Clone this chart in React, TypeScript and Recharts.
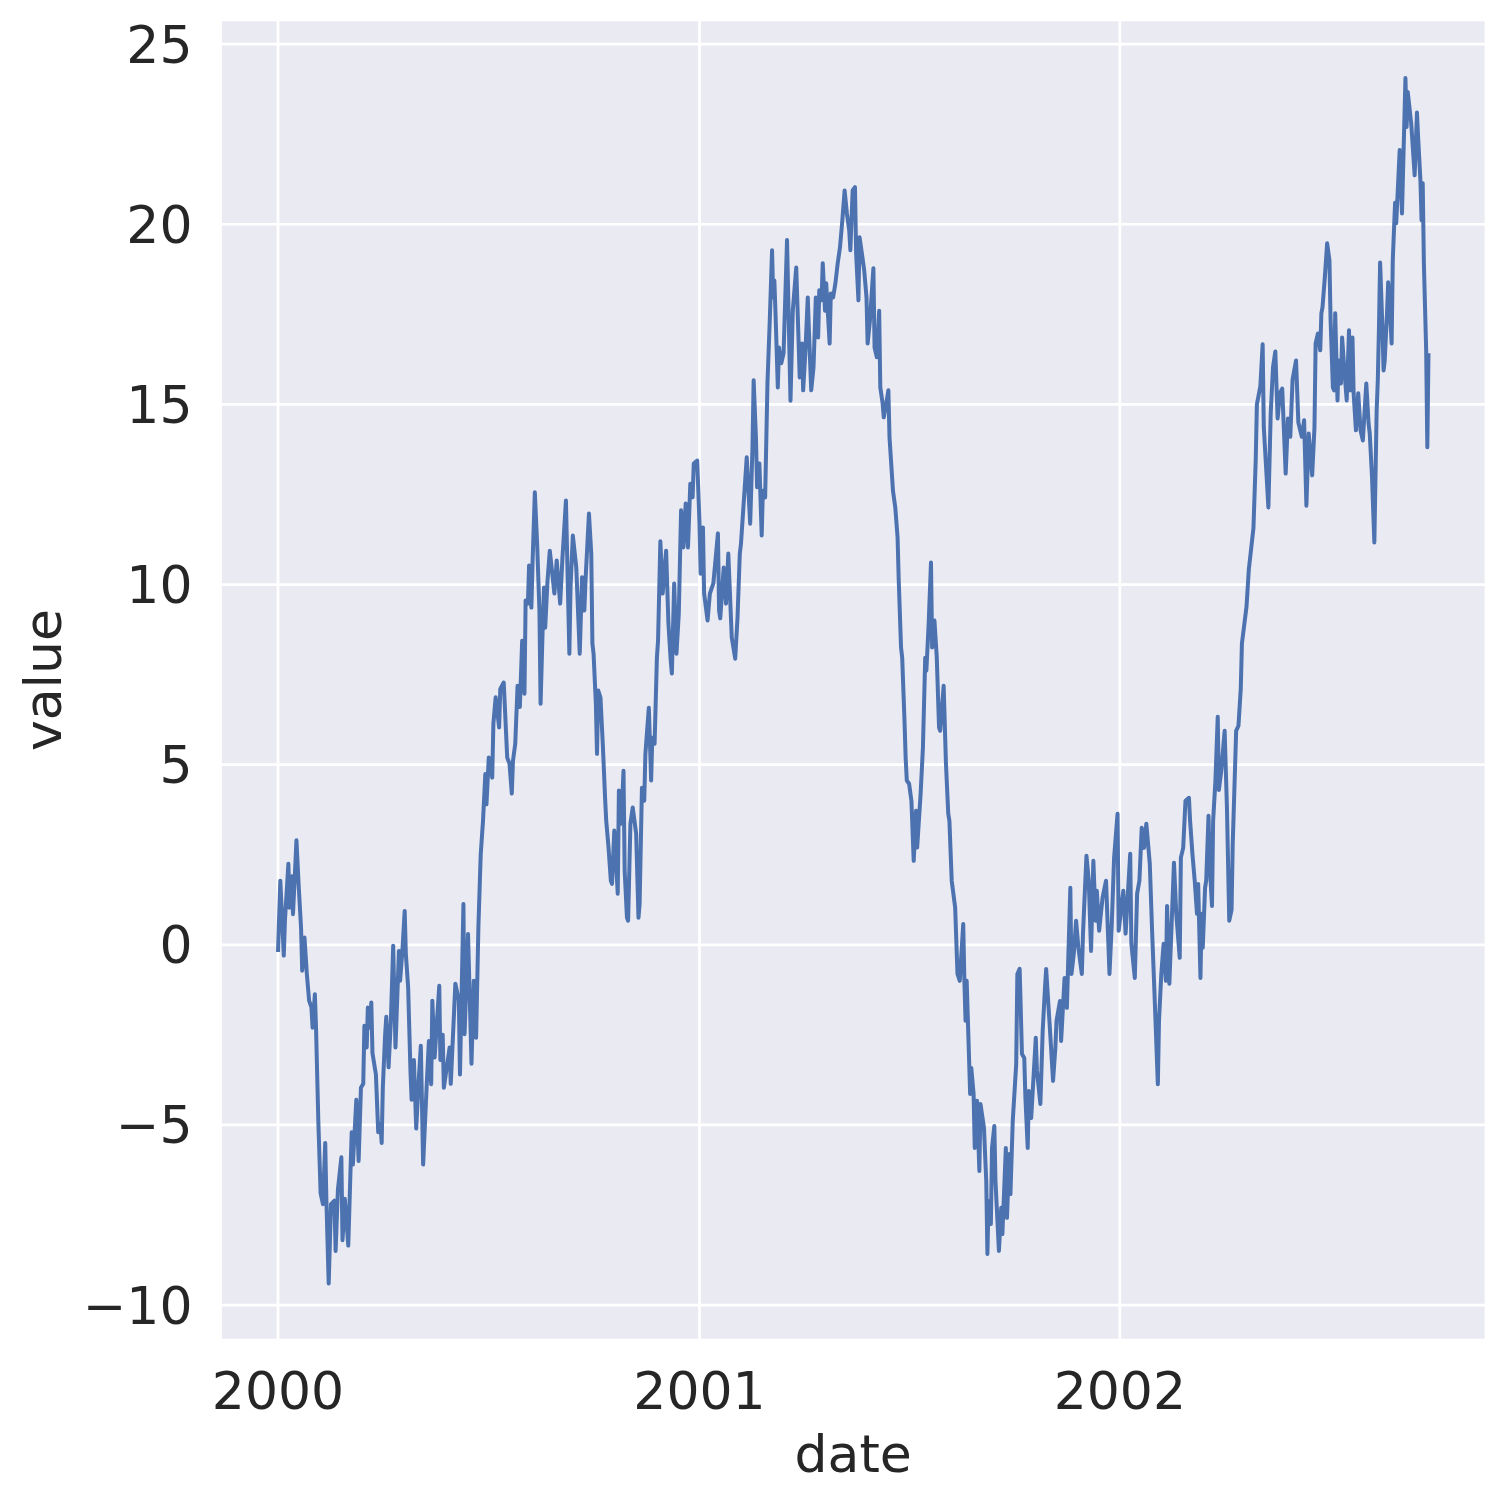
import React from 'react';
import { LineChart, Line, XAxis, YAxis, CartesianGrid, Label } from 'recharts';

// day offset from 2000-01-01
const days = [
  0, 2, 5, 6, 9, 10, 12, 13, 16, 18, 20, 21, 23, 25, 27, 29, 30, 32, 33, 35, 37, 39, 41, 42, 44, 46, 49, 50, 52, 55,
  56, 58, 61, 63, 64, 65, 68, 70, 72, 74, 75, 77, 78, 80, 81, 82, 85, 87, 89, 90, 91, 93, 94, 96, 98, 100, 102, 105,
  106, 108, 110, 111, 113, 115, 116, 118, 120, 122, 124, 125, 126, 129, 131, 133, 134, 136, 140, 141, 143, 144, 147,
  149, 150, 154, 157, 158, 161, 162, 165, 168, 170, 172, 174, 176, 178, 180, 181, 183, 186, 187, 189, 192, 193, 196,
  199, 201, 203, 204, 206, 208, 210, 212, 214, 215, 217, 218, 220, 221, 223, 225, 227, 228, 230, 231, 232, 234, 236,
  240, 242, 245, 247, 250, 253, 254, 256, 259, 262, 264, 266, 267, 270, 272, 273, 274, 276, 277, 278, 280, 282, 284,
  285, 287, 289, 290, 292, 295, 296, 298, 300, 301, 303, 304, 306, 308, 311, 313, 314, 316, 318, 319, 322, 324, 325,
  327, 329, 330, 332, 334, 337, 339, 341, 342, 344, 346, 348, 350, 352, 354, 356, 358, 360, 361, 364, 366, 367, 369,
  370, 373, 375, 378, 382, 383, 384, 387, 389, 391, 394, 397, 399, 401, 402, 407, 410, 412, 413, 415, 416, 418, 420,
  421, 423, 425, 427, 429, 430, 431, 432, 434, 435, 437, 439, 442, 444, 445, 447, 450, 451, 453, 455, 456, 458, 460,
  461, 463, 465, 467, 469, 470, 472, 473, 475, 476, 479, 480, 482, 484, 486, 488, 490, 492, 494, 496, 497, 499, 501,
  502, 504, 505, 507, 509, 511, 512, 514, 517, 518, 520, 522, 523, 525, 526, 529, 530, 531, 534, 536, 538, 539, 541,
  542, 544, 545, 546, 548, 550, 552, 554, 555, 558, 560, 562, 563, 565, 567, 568, 570, 572, 574, 575, 578, 580, 582,
  583, 585, 588, 590, 592, 595, 596, 597, 598, 601, 602, 604, 605, 607, 609, 610, 613, 615, 616, 617, 619, 620, 622,
  623, 626, 628, 629, 632, 633, 635, 636, 638, 641, 642, 644, 646, 648, 649, 651, 652, 654, 658, 659, 662, 664, 666,
  667, 670, 673, 675, 676, 679, 680, 683, 685, 688, 689, 691, 693, 695, 698, 699, 702, 704, 706, 708, 710, 711, 713,
  716, 719, 722, 724, 726, 729, 730, 734, 736, 740, 741, 744, 746, 748, 750, 752, 754, 757, 759, 761, 764, 765, 767,
  769, 771, 772, 774, 778, 780, 783, 784, 786, 788, 791, 792, 794, 796, 798, 799, 801, 802, 803, 805, 806, 808, 809,
  811, 812, 814, 816, 817, 819, 822, 824, 826, 828, 829, 832, 834, 836, 837, 841, 843, 847, 849, 850, 853, 855, 856,
  860, 862, 864, 866, 868, 870, 872, 875, 877, 879, 881, 884, 886, 889, 891, 893, 895, 898, 900, 901, 903, 905, 906,
  907, 909, 911, 913, 914, 916, 917, 918, 920, 921, 923, 924, 926, 928, 930, 931, 933, 934, 936, 938, 940, 942, 945,
  947, 948, 950, 951, 952, 954, 955, 956, 957, 959, 960, 961, 963, 964, 966, 967, 968, 970, 971, 974, 976, 979, 980,
  981, 984, 987, 989, 990, 992, 993, 994, 995, 997, 998, 999,
];

const values = [
  -0.2, 1.78, -0.3, 0.67, 2.25, 1.03, 1.9, 0.85, 2.9, 1.6, 0.47, -0.72, 0.2, -0.8, -1.55, -1.74, -2.3, -1.37, -2.3, -4.9,
  -6.9, -7.2, -5.5, -7.1, -9.4, -7.2, -7.1, -8.5, -6.8, -5.9, -8.2, -7.05, -8.35, -6.2, -5.2, -6.1, -4.3, -6.0, -3.97,
  -3.86, -2.25, -2.85, -1.74, -2.3, -1.6, -3.0, -3.6, -5.2, -4.97, -5.5, -3.97, -2.5, -2.0, -3.4, -2.1, -0.03, -2.85,
  -0.17, -1.0, -0.17, 0.94, -0.25, -1.19, -3.5, -4.3, -3.2, -5.1, -3.87, -2.8, -4.4, -6.1, -3.97, -2.67, -3.87, -1.55,
  -3.13, -1.14, -3.2, -2.5, -3.97, -3.3, -2.85, -3.86, -1.08, -1.55, -3.6, 1.13, -2.48, 0.3, -3.3, -1.0, -2.58, 0.5,
  2.5, 3.44, 4.74, 3.9, 5.2, 4.64, 6.13, 6.87, 6.03, 7.1, 7.28, 5.2, 5.03, 4.2, 5.1, 5.58, 7.19, 6.6, 8.44, 6.97, 9.56,
  9.47, 10.53, 9.36, 10.58, 12.56, 11.13, 9.28, 6.69, 9.0, 9.92, 8.8, 10.1, 10.94, 9.75, 10.67, 9.47, 10.75, 12.33,
  8.08, 9.92, 11.36, 10.47, 8.08, 10.2, 9.28, 10.1, 11.97, 10.86, 8.36, 8.08, 6.69, 5.3, 7.06, 6.86, 5.58, 4.08, 3.44,
  2.7, 1.78, 1.69, 3.17, 1.42, 4.28, 3.36, 4.83, 2.06, 0.75, 0.67, 3.36, 3.81, 3.08, 0.75, 1.14, 4.36, 4.0, 5.3, 6.58,
  4.56, 5.75, 5.58, 7.97, 8.44, 11.2, 9.75, 10.94, 8.92, 7.89, 7.53, 10.03, 8.08, 9.19, 12.06, 11.03, 12.25, 11.03,
  12.8, 12.42, 13.36, 13.44, 11.69, 10.3, 11.58, 9.75, 9.0, 9.75, 10.03, 11.42, 9.28, 9.06, 10.47, 9.47, 10.86, 8.53,
  7.94, 9.08, 10.86, 11.13, 13.53, 11.69, 13.81, 15.67, 14.08, 12.7, 13.36, 11.36, 12.6, 12.42, 15.58, 17.33, 19.28,
  17.97, 18.44, 17.53, 15.47, 16.58, 16.14, 16.42, 19.56, 16.58, 15.1, 17.6, 18.8, 17.8, 15.75, 16.69, 15.39, 16.5,
  17.97, 17.06, 15.39, 16.03, 17.97, 16.86, 18.17, 17.89, 18.92, 17.6, 18.36, 16.69, 18.08, 17.97, 18.36, 18.92, 19.36,
  20.1, 20.94, 20.3, 19.83, 19.28, 20.94, 21.03, 19.19, 17.89, 19.64, 19.19, 18.72, 17.97, 16.69, 17.33, 18.78, 16.58,
  16.31, 17.6, 15.47, 15.03, 14.64, 15.19, 15.39, 14.08, 12.6, 12.14, 11.3, 10.11, 8.25, 7.97, 6.22, 5.19, 4.56, 4.47,
  4.0, 2.33, 3.72, 2.7, 4.19, 5.47, 7.97, 7.61, 8.92, 10.61, 8.25, 9.0, 8.0, 6.03, 5.94, 7.19, 5.03, 3.64, 3.44, 1.78,
  1.03, -0.81, -1.0, 0.58, -1.0, -2.11, -1.0, -4.14, -3.42, -4.14, -5.64, -4.33, -6.28, -4.42, -5.08, -6.56, -8.58,
  -7.11, -7.75, -5.64, -5.03, -6.56, -8.5, -7.3, -8.03, -5.64, -7.58, -5.81, -6.92, -4.89, -3.31, -0.81, -0.67, -3.03,
  -3.14, -4.25, -5.64, -4.06, -4.81, -2.58, -3.5, -4.42, -2.39, -1.19, -0.67, -2.19, -3.78, -2.86, -2.11, -1.56, -2.67,
  -0.92, -1.75, 1.58, -0.81, -0.25, 0.67, -0.08, -0.81, 0.31, 2.47, 1.78, -0.17, 2.33, 0.67, 1.5, 0.39, 1.31, 1.78,
  -0.81, 0.58, 2.42, 3.64, 0.39, 1.5, 0.31, 2.53, 0.03, -0.92, 1.42, 1.78, 3.25, 2.69, 3.36, 2.25, 0.39, -1.28, -3.87,
  -2.11, -0.81, 0.03, -1.0, 1.08, -1.08, 2.28, 0.86, -0.36, 2.42, 2.69, 4.0, 4.08, 3.44, 2.53, 1.78, 0.86, 1.69, -0.92,
  0.86, -0.08, 1.58, 1.78, 3.58, 2.25, 1.08, 3.44, 4.56, 6.33, 4.3, 4.81, 5.94, 3.8, 0.67, 0.97, 2.78, 5.94, 6.08,
  7.11, 8.36, 9.39, 10.42, 11.56, 13.47, 15.0, 15.5, 16.67, 14.36, 12.14, 14.75, 16.03, 16.47, 14.61, 15.31, 15.44,
  13.08, 14.61, 14.1, 15.69, 16.22, 14.5, 14.1, 14.56, 12.19, 14.19, 13.03, 14.36, 16.69, 16.97, 16.5, 17.53, 17.7,
  18.53, 19.47, 19.0, 17.33, 15.47, 15.39, 17.53, 15.11, 16.22, 15.58, 16.86, 15.94, 15.11, 17.06, 15.39, 16.86, 15.31,
  14.28, 15.31, 14.28, 14.0, 15.58, 14.47, 14.19, 12.97, 12.06, 11.17, 14.83, 15.67, 17.14, 18.94, 17.14, 15.94, 16.22,
  17.53, 18.39, 17.33, 16.69, 19.0, 20.6, 20.03, 22.06, 20.3, 24.06, 22.7, 23.67, 22.8, 21.36, 23.1, 22.42, 21.22,
  20.11, 21.14, 18.92, 16.5, 13.81, 16.42,
];

const yearTicks = [0, 366, 731];
const yearLabels = ['2000', '2001', '2002'];
const valueTicks = [-10, -5, 0, 5, 10, 15, 20, 25];

const data = days.map((d, i) => ({ day: d, value: values[i] }));

const FONT = '"DejaVu Sans", Verdana, sans-serif';
const TEXT = '#262626';
const FS = 52;

const fmtValue = (v: number) => (v < 0 ? '\u2212' + Math.abs(v) : String(v));
const fmtYear = (v: number) => yearLabels[yearTicks.indexOf(v)] ?? '';

const XLabel = (props: any) => {
  const vb = props.viewBox || {};
  return (
    <text
      x={vb.x + vb.width / 2}
      y={vb.y + vb.height - 16}
      textAnchor="middle"
      fontFamily={FONT}
      fontSize={FS}
      fill={TEXT}
    >
      date
    </text>
  );
};

const YLabel = (props: any) => {
  const vb = props.viewBox || {};
  const cx = (vb.x || 0) + 53;
  const cy = vb.y + vb.height / 2;
  return (
    <text
      x={cx}
      y={cy}
      transform={`rotate(-90, ${cx}, ${cy})`}
      textAnchor="middle"
      fontFamily={FONT}
      fontSize={FS}
      fill={TEXT}
    >
      value
    </text>
  );
};

export default function App() {
  return (
    <div style={{ width: 1489, height: 1480 }}>
      <LineChart
        width={1489}
        height={1480}
        data={data}
        margin={{ top: 12, right: 11, bottom: 0, left: 0 }}
      >
        <CartesianGrid fill="#EAEAF2" fillOpacity={1} stroke="#FFFFFF" strokeWidth={2.7} />
        <XAxis
          dataKey="day"
          type="number"
          domain={[-49.95, 1048.95]}
          allowDataOverflow
          ticks={yearTicks}
          interval={0}
          tickFormatter={fmtYear}
          axisLine={false}
          tickLine={false}
          tickSize={0}
          tickMargin={32}
          height={148}
          tick={{ fontSize: FS, fill: TEXT, fontFamily: FONT }}
          label={<Label content={XLabel} />}
        />
        <YAxis
          type="number"
          domain={[-10.97, 25.67]}
          allowDataOverflow
          ticks={valueTicks}
          interval={0}
          tickFormatter={fmtValue}
          axisLine={false}
          tickLine={false}
          tickSize={0}
          tickMargin={28}
          width={212.5}
          tick={{ fontSize: FS, fill: TEXT, fontFamily: FONT }}
          label={<Label content={YLabel} />}
        />
        <Line
          type="linear"
          dataKey="value"
          stroke="#4C72B0"
          strokeWidth={4}
          strokeLinejoin="round"
          dot={false}
          activeDot={false}
          isAnimationActive={false}
        />
      </LineChart>
    </div>
  );
}
